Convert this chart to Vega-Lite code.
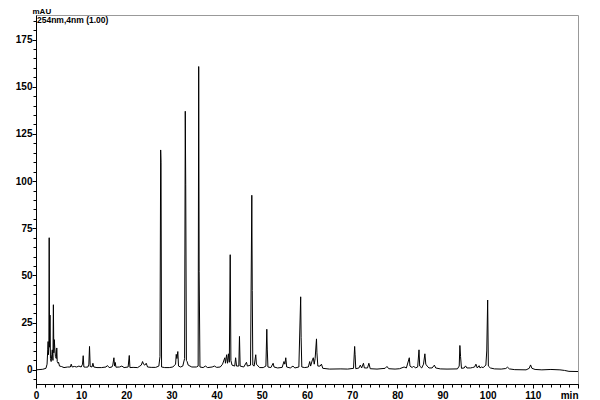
{
  "$schema": "https://vega.github.io/schema/vega-lite/v6.json",
  "width": 542,
  "height": 369,
  "autosize": {"type": "none"},
  "padding": {"left": 36, "top": 15, "right": 22, "bottom": 16},
  "background": "white",
  "config": {
    "font": "Liberation Sans",
    "view": {"stroke": "#999999", "strokeWidth": 1},
    "axis": {"grid": false, "domainColor": "#000000", "tickColor": "#000000", "labelColor": "#000000", "labelFont": "Liberation Sans", "labelFontWeight": "bold", "labelFontSize": 10}
  },
  "datasets": {
    "chrom": [
      {"t": 0, "v": 0}, {"t": 1.5, "v": 0.3}, {"t": 2.2, "v": 0.8}, {"t": 2.45, "v": 3}, {"t": 2.6, "v": 10.6},
      {"t": 2.68, "v": 15}, {"t": 2.75, "v": 8}, {"t": 2.85, "v": 12}, {"t": 2.92, "v": 70}, {"t": 3.0, "v": 12},
      {"t": 3.1, "v": 29}, {"t": 3.2, "v": 6}, {"t": 3.35, "v": 4.4}, {"t": 3.5, "v": 8}, {"t": 3.6, "v": 10.6},
      {"t": 3.75, "v": 5}, {"t": 3.85, "v": 34.5}, {"t": 3.95, "v": 9}, {"t": 4.05, "v": 16}, {"t": 4.15, "v": 12},
      {"t": 4.3, "v": 7}, {"t": 4.5, "v": 6}, {"t": 4.6, "v": 11.6}, {"t": 4.7, "v": 4.4}, {"t": 4.9, "v": 3.5},
      {"t": 5.0, "v": 4}, {"t": 5.2, "v": 2}, {"t": 5.6, "v": 1.8}, {"t": 6.2, "v": 1.2}, {"t": 7.0, "v": 1.5},
      {"t": 7.6, "v": 1.5}, {"t": 7.8, "v": 3}, {"t": 8.0, "v": 1.5}, {"t": 8.5, "v": 1.8}, {"t": 9.0, "v": 1.5},
      {"t": 9.5, "v": 2}, {"t": 10.0, "v": 1.5}, {"t": 10.3, "v": 3}, {"t": 10.45, "v": 7.5}, {"t": 10.6, "v": 1.5},
      {"t": 11.0, "v": 1.4}, {"t": 11.5, "v": 1.5}, {"t": 11.7, "v": 3}, {"t": 11.85, "v": 12.4}, {"t": 12.0, "v": 1.8},
      {"t": 12.4, "v": 1.5}, {"t": 12.6, "v": 3.5}, {"t": 12.8, "v": 1.5}, {"t": 13.5, "v": 1.2}, {"t": 14.5, "v": 1.2},
      {"t": 15.5, "v": 1.5}, {"t": 15.8, "v": 2.3}, {"t": 16.2, "v": 1.2}, {"t": 16.8, "v": 1.5}, {"t": 17.0, "v": 2.5},
      {"t": 17.25, "v": 6.4}, {"t": 17.4, "v": 2}, {"t": 17.55, "v": 3.9}, {"t": 17.7, "v": 1.4}, {"t": 18.5, "v": 1.5},
      {"t": 19.0, "v": 2}, {"t": 19.5, "v": 1.2}, {"t": 20.4, "v": 1.5}, {"t": 20.65, "v": 7.6}, {"t": 20.8, "v": 1.2},
      {"t": 21.5, "v": 1.3}, {"t": 22.5, "v": 1.2}, {"t": 23.0, "v": 2}, {"t": 23.3, "v": 2.5}, {"t": 23.6, "v": 4.4},
      {"t": 23.8, "v": 3}, {"t": 24.1, "v": 2.5}, {"t": 24.4, "v": 3.5}, {"t": 24.7, "v": 1.5}, {"t": 25.5, "v": 1.3},
      {"t": 26.5, "v": 1.3}, {"t": 27.2, "v": 2}, {"t": 27.45, "v": 7}, {"t": 27.6, "v": 116.5}, {"t": 27.68, "v": 110},
      {"t": 27.8, "v": 1.5}, {"t": 28.5, "v": 1.2}, {"t": 29.5, "v": 1.2}, {"t": 30.3, "v": 1.5}, {"t": 30.9, "v": 3},
      {"t": 31.05, "v": 8.2}, {"t": 31.2, "v": 6}, {"t": 31.4, "v": 9.7}, {"t": 31.55, "v": 2}, {"t": 32.0, "v": 1.5},
      {"t": 32.5, "v": 2}, {"t": 32.9, "v": 6}, {"t": 33.05, "v": 137}, {"t": 33.15, "v": 98}, {"t": 33.3, "v": 5},
      {"t": 33.45, "v": 4.4}, {"t": 33.7, "v": 2.5}, {"t": 34.5, "v": 1.5}, {"t": 35.5, "v": 1.5}, {"t": 35.9, "v": 2},
      {"t": 36.02, "v": 160.7}, {"t": 36.12, "v": 52}, {"t": 36.3, "v": 1.5}, {"t": 37.0, "v": 1.2}, {"t": 37.5, "v": 2},
      {"t": 38.0, "v": 1.2}, {"t": 39.0, "v": 1.5}, {"t": 39.5, "v": 2}, {"t": 40.0, "v": 1.3}, {"t": 40.8, "v": 1.5},
      {"t": 41.3, "v": 3}, {"t": 41.8, "v": 6.4}, {"t": 41.95, "v": 3.5}, {"t": 42.2, "v": 8}, {"t": 42.4, "v": 3.5},
      {"t": 42.6, "v": 8.5}, {"t": 42.8, "v": 4}, {"t": 43.0, "v": 61}, {"t": 43.15, "v": 5}, {"t": 43.4, "v": 2.5},
      {"t": 44.0, "v": 2}, {"t": 44.2, "v": 6.4}, {"t": 44.4, "v": 2}, {"t": 44.9, "v": 2}, {"t": 45.05, "v": 17.7},
      {"t": 45.2, "v": 2}, {"t": 46.0, "v": 1.5}, {"t": 46.6, "v": 4}, {"t": 46.8, "v": 2}, {"t": 47.5, "v": 2.5},
      {"t": 47.78, "v": 92.5}, {"t": 47.88, "v": 42}, {"t": 48.0, "v": 2.5}, {"t": 48.3, "v": 2}, {"t": 48.65, "v": 8},
      {"t": 48.8, "v": 3}, {"t": 49.5, "v": 1.2}, {"t": 50.3, "v": 1.2}, {"t": 50.9, "v": 2}, {"t": 51.1, "v": 21.5},
      {"t": 51.2, "v": 11}, {"t": 51.35, "v": 1.5}, {"t": 52.0, "v": 1.2}, {"t": 52.5, "v": 3.5}, {"t": 52.7, "v": 1.5},
      {"t": 53.5, "v": 1}, {"t": 54.5, "v": 1.3}, {"t": 54.9, "v": 4.4}, {"t": 55.1, "v": 3}, {"t": 55.3, "v": 6.4},
      {"t": 55.5, "v": 1.5}, {"t": 56.3, "v": 1}, {"t": 56.9, "v": 2}, {"t": 57.3, "v": 1}, {"t": 58.2, "v": 1.5},
      {"t": 58.6, "v": 38.7}, {"t": 58.7, "v": 17}, {"t": 58.85, "v": 1.5}, {"t": 59.5, "v": 1.2}, {"t": 60.3, "v": 1.5},
      {"t": 60.6, "v": 4.4}, {"t": 60.8, "v": 2}, {"t": 61.2, "v": 5.3}, {"t": 61.4, "v": 6.4}, {"t": 61.6, "v": 3},
      {"t": 61.8, "v": 6}, {"t": 62.1, "v": 16.4}, {"t": 62.2, "v": 9}, {"t": 62.4, "v": 2}, {"t": 62.9, "v": 2},
      {"t": 63.2, "v": 3}, {"t": 63.5, "v": 0.8}, {"t": 65.0, "v": 0.4}, {"t": 67.5, "v": 0.5}, {"t": 69.0, "v": 0.4},
      {"t": 70.3, "v": 0.8}, {"t": 70.55, "v": 12.4}, {"t": 70.65, "v": 8}, {"t": 70.8, "v": 0.6}, {"t": 71.5, "v": 1},
      {"t": 71.8, "v": 2.5}, {"t": 72.1, "v": 1}, {"t": 72.5, "v": 3.5}, {"t": 72.7, "v": 1}, {"t": 73.4, "v": 1},
      {"t": 73.7, "v": 3.5}, {"t": 74.0, "v": 0.6}, {"t": 75.5, "v": 0.4}, {"t": 77.3, "v": 0.8}, {"t": 77.7, "v": 1.8},
      {"t": 78.1, "v": 0.6}, {"t": 79.5, "v": 0.4}, {"t": 80.5, "v": 0.6}, {"t": 81.5, "v": 1.5}, {"t": 82.0, "v": 1},
      {"t": 82.65, "v": 6.4}, {"t": 82.8, "v": 2}, {"t": 83.3, "v": 1.2}, {"t": 83.6, "v": 2}, {"t": 84.0, "v": 1},
      {"t": 84.5, "v": 1.5}, {"t": 84.8, "v": 10.6}, {"t": 84.95, "v": 2}, {"t": 85.4, "v": 1}, {"t": 85.8, "v": 3},
      {"t": 86.1, "v": 8.5}, {"t": 86.3, "v": 3}, {"t": 86.6, "v": 2}, {"t": 87.0, "v": 1}, {"t": 87.7, "v": 1},
      {"t": 88.2, "v": 2.5}, {"t": 88.5, "v": 1}, {"t": 89.5, "v": 0.5}, {"t": 91.0, "v": 0.4}, {"t": 93.3, "v": 0.5},
      {"t": 93.7, "v": 2}, {"t": 93.85, "v": 12.9}, {"t": 94.0, "v": 7}, {"t": 94.2, "v": 0.8}, {"t": 94.8, "v": 1},
      {"t": 95.1, "v": 2.1}, {"t": 95.4, "v": 1}, {"t": 96.2, "v": 1}, {"t": 96.6, "v": 1.2}, {"t": 97.1, "v": 1.5},
      {"t": 97.4, "v": 3}, {"t": 97.7, "v": 1}, {"t": 98.1, "v": 2.2}, {"t": 98.3, "v": 1}, {"t": 98.6, "v": 1.5},
      {"t": 99.0, "v": 1.2}, {"t": 99.6, "v": 2.5}, {"t": 99.8, "v": 10}, {"t": 100.0, "v": 37}, {"t": 100.15, "v": 2},
      {"t": 100.6, "v": 1}, {"t": 101.5, "v": 0.5}, {"t": 103.0, "v": 0.4}, {"t": 104.0, "v": 0.7}, {"t": 104.4, "v": 1.4},
      {"t": 104.8, "v": 0.5}, {"t": 106.0, "v": 0.1}, {"t": 108.5, "v": 0}, {"t": 109.2, "v": 0.8}, {"t": 109.5, "v": 2.6},
      {"t": 109.8, "v": 0.8}, {"t": 110.5, "v": 0.2}, {"t": 112.0, "v": 0}, {"t": 114.0, "v": 0.2}, {"t": 116.0, "v": 0},
      {"t": 117.0, "v": -0.3}, {"t": 118.0, "v": -0.8}, {"t": 120.0, "v": -0.9}
    ],
    "annot": [{"label": "254nm,4nm (1.00)"}]
  },
  "data": {"name": "chrom"},
  "layer": [
    {
      "mark": {"type": "line", "color": "#000000", "strokeWidth": 1, "clip": true},
      "encoding": {
        "x": {
          "field": "t", "type": "quantitative",
          "scale": {"domain": [0, 120], "nice": false, "zero": false},
          "axis": {
            "orient": "bottom", "title": null,
            "values": [0, 10, 20, 30, 40, 50, 60, 70, 80, 90, 100, 110, 120],
            "labelExpr": "datum.value == 120 ? 'min' : datum.label",
            "labelAlign": {"condition": {"test": "datum.value == 120", "value": "right"}, "value": "center"},
            "labelOverlap": false, "labelFlush": false, "labelBound": false,
            "tickSize": 4, "labelPadding": 2
          }
        },
        "y": {
          "field": "v", "type": "quantitative",
          "scale": {"domain": [-7.5, 188], "nice": false, "zero": false},
          "axis": {
            "orient": "left",
            "values": [0, 25, 50, 75, 100, 125, 150, 175],
            "tickSize": 4, "labelPadding": 0, "labelOverlap": false,
            "title": "mAU", "titleAngle": 0, "titleX": -4, "titleY": -1.5,
            "titleAlign": "left", "titleBaseline": "alphabetic",
            "titleFont": "Liberation Sans", "titleFontSize": 8, "titleFontWeight": "bold", "titleColor": "#000000"
          }
        }
      }
    },
    {
      "mark": {"type": "line", "opacity": 0},
      "encoding": {
        "x": {
          "field": "t", "type": "quantitative",
          "axis": {"orient": "bottom", "title": null, "labels": false, "domain": false, "tickSize": 3,
            "values": [0, 2, 4, 6, 8, 10, 12, 14, 16, 18, 20, 22, 24, 26, 28, 30, 32, 34, 36, 38, 40, 42, 44, 46, 48, 50, 52, 54, 56, 58, 60, 62, 64, 66, 68, 70, 72, 74, 76, 78, 80, 82, 84, 86, 88, 90, 92, 94, 96, 98, 100, 102, 104, 106, 108, 110, 112, 114, 116, 118, 120]}
        },
        "y": {
          "field": "v", "type": "quantitative",
          "axis": {"orient": "left", "title": null, "labels": false, "domain": false, "tickSize": 3,
            "values": [-5, 0, 5, 10, 15, 20, 25, 30, 35, 40, 45, 50, 55, 60, 65, 70, 75, 80, 85, 90, 95, 100, 105, 110, 115, 120, 125, 130, 135, 140, 145, 150, 155, 160, 165, 170, 175, 180, 185]}
        }
      }
    },
    {
      "data": {"name": "annot"},
      "mark": {"type": "text", "align": "left", "baseline": "top", "dx": 1, "dy": 1, "font": "Liberation Sans", "fontSize": 8.5, "fontWeight": "bold", "color": "#000000"},
      "encoding": {
        "x": {"datum": 0, "type": "quantitative", "axis": null},
        "y": {"datum": 188, "type": "quantitative", "axis": null},
        "text": {"field": "label"}
      }
    }
  ],
  "resolve": {"axis": {"x": "independent", "y": "independent"}}
}
